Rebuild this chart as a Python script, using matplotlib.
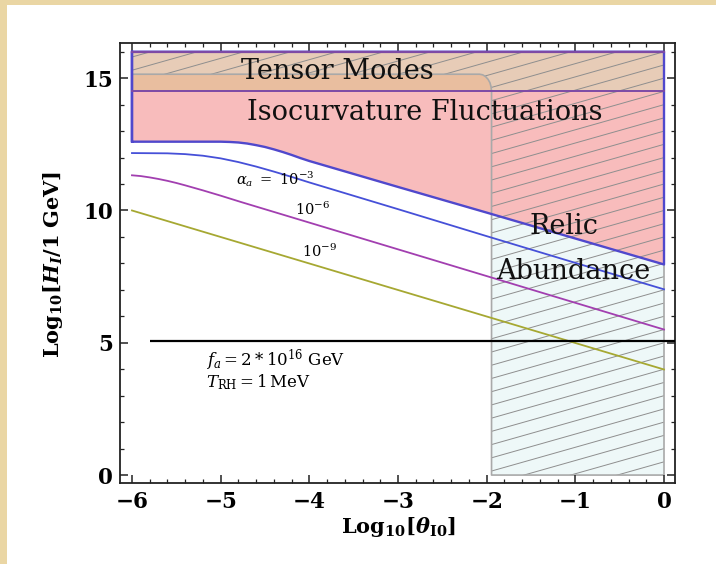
import numpy as np
import matplotlib
matplotlib.use('Agg')
import matplotlib.pyplot as plt
from matplotlib.patches import Polygon, Rectangle
from matplotlib.ticker import MultipleLocator

# ---------------- data ----------------
iso_x = [-6.0, -5.0, -4.9, -4.8, -4.7, -4.6, -4.5, -4.4, -4.3, -4.2, -4.1, -4.0,
         -3.0, -2.0, -1.0, 0.0]
iso_y = [12.6, 12.6, 12.59, 12.57, 12.53, 12.47, 12.40, 12.31, 12.21, 12.10, 11.98, 11.87,
         10.89, 9.92, 8.94, 7.96]
iso_top = 16.0

tensor_x = [-6.0, 0.0]
tensor_lo = 14.5
tensor_hi = 16.0

curve_x1 = [-6.0, -5.6, -5.4, -5.2, -5.0, -4.8, -4.6, -4.4, -4.2, -4.0, -3.0, -2.0, -1.0, 0.0]
curve_y1 = [12.17, 12.16, 12.13, 12.07, 11.97, 11.83, 11.66, 11.47, 11.27, 11.06,
            10.05, 9.03, 8.02, 7.02]
curve_x2 = [-6.0, -5.9, -5.8, -5.7, -5.6, -5.5, -5.4, -5.2, -5.0, -4.78, 0.0]
curve_y2 = [11.33, 11.30, 11.25, 11.19, 11.12, 11.04, 10.95, 10.76, 10.56, 10.33, 5.5]
curve_x3 = [-6.0, 0.0]
curve_y3 = [10.0, 3.99]
curve_labels = [r'$\alpha_a\ =\ 10^{-3}$', r'$10^{-6}$', r'$10^{-9}$']
curve_label_x = [-4.38, -3.96, -3.88]
curve_label_y = [11.2, 10.06, 8.44]

relic_x = [-6.0, -2.08, -2.045, -2.012, -1.985, -1.963, -1.95, -1.945, -1.945, 0.0, 0.0, -6.0]
relic_y = [15.15, 15.15, 15.128, 15.06, 14.96, 14.83, 14.67, 14.5, 0.0, 0.0, 16.0, 16.0]

hline_y = 5.07
hline_x0 = -5.8

region_labels = ['Tensor Modes', 'Isocurvature Fluctuations', 'Relic', 'Abundance']
region_label_x = [-3.68, -2.70, -1.13, -1.02]
region_label_y = [15.25, 13.72, 9.41, 7.69]

xticks = [-6, -5, -4, -3, -2, -1, 0]
yticks = [0, 5, 10, 15]
xlim = (-6.135, 0.124)
ylim = (-0.30, 16.33)

# ---------------- style ----------------
plt.rcParams['mathtext.fontset'] = 'dejavuserif'
plt.rcParams['font.family'] = ['DejaVu Serif']

W, H = 716, 564
fig = plt.figure(figsize=(W / 100, H / 100), dpi=100)
fig.patch.set_facecolor('white')
# parchment border
fig.add_artist(Rectangle((0, 1 - 5 / H), 1, 5 / H, transform=fig.transFigure,
                         facecolor='#ead6a4', edgecolor='none', zorder=-10))
fig.add_artist(Rectangle((0, 0), 7 / W, 1, transform=fig.transFigure,
                         facecolor='#ead6a4', edgecolor='none', zorder=-10))

ax = fig.add_axes([120 / W, 1 - 483 / H, (675 - 120) / W, (483 - 43) / H])
ax.set_xlim(*xlim)
ax.set_ylim(*ylim)

relic_xy = np.column_stack([relic_x, relic_y])
# relic abundance region (underneath)
ax.add_patch(Polygon(relic_xy, closed=True, facecolor='#eef8f8', edgecolor='none', zorder=0.9))
# isocurvature region
ax.fill_between(iso_x, iso_y, iso_top, facecolor='#f8bcbc', edgecolor='none', zorder=1)
# tensor band (light, hatched part) + stronger tone where not in relic region
ax.fill_between(tensor_x, tensor_lo, tensor_hi, facecolor='#dcd8b5', alpha=0.6,
                edgecolor='none', zorder=1.1)
ax.fill_between(relic_x[:8], tensor_lo, relic_y[:8], facecolor='#ee9e68', alpha=0.3,
                edgecolor='none', zorder=1.15)

relic_clip = Polygon(relic_xy, closed=True, facecolor='none', edgecolor='none')
ax.add_patch(relic_clip)
hx = np.array([-6.3, 0.3])
for c in np.arange(-6, 24, 0.5):
    ln, = ax.plot(hx, 0.95 * hx + c, color='#8e8e8e', lw=0.7, zorder=1.3)
    ln.set_clip_path(relic_clip)
ax.plot(relic_x[:-2] + [0.0], relic_y[:-2] + [16.0], color='#a9a9a9', lw=1.2, zorder=1.4)

# outlines
ix = [-6.0] + iso_x + [0.0, -6.0, -6.0]
iy = [iso_top] + iso_y + [iso_top, iso_top, iso_y[0]]
ax.plot(ix, iy, color='#5048cc', lw=1.7, zorder=2, solid_joinstyle='round')
ax.plot(tensor_x, [tensor_lo, tensor_lo], color='#7d4aa6', lw=1.4, zorder=2)
ax.plot(tensor_x, [tensor_hi, tensor_hi], color='#7d4aa6', lw=1.6, zorder=2)

# alpha curves
ax.plot(curve_x1, curve_y1, color='#4650d8', lw=1.3, zorder=3)
ax.plot(curve_x2, curve_y2, color='#a23fb0', lw=1.3, zorder=3)
ax.plot(curve_x3, curve_y3, color='#a6a832', lw=1.3, zorder=3)

ax.hlines(hline_y, hline_x0, xlim[1], color='black', lw=1.6, zorder=3)

for s, x, y in zip(curve_labels, curve_label_x, curve_label_y):
    ax.text(x, y, s, ha='center', va='center', fontsize=10.5, zorder=4)

for s, x, y in zip(region_labels, region_label_x, region_label_y):
    ax.text(x, y, s, ha='center', va='center', fontsize=19.5, zorder=4, color='#111111')

ax.text(-5.17, 4.35, r'$f_a = 2 * 10^{16}\ \mathrm{GeV}$', ha='left', va='center',
        fontsize=12, zorder=4)
ax.text(-5.17, 3.52, r'$T_{\mathrm{RH}} = 1\,\mathrm{MeV}$', ha='left', va='center',
        fontsize=12, zorder=4)

# ticks & frame
ax.set_xticks(xticks)
ax.set_yticks(yticks)
ax.xaxis.set_minor_locator(MultipleLocator(0.2))
ax.yaxis.set_minor_locator(MultipleLocator(1.0))
ax.tick_params(which='both', direction='in', top=True, right=True, color='#222222')
ax.tick_params(which='major', length=6, width=1.1)
ax.tick_params(which='minor', length=3.2, width=0.9)
ax.tick_params(axis='x', pad=6)
ax.tick_params(axis='y', pad=5)
for lab in ax.get_xticklabels() + ax.get_yticklabels():
    lab.set_fontweight('bold')
    lab.set_fontsize(15.5)
for sp in ax.spines.values():
    sp.set_linewidth(1.3)
    sp.set_color('#222222')

ylab_bf = r'$\mathbf{Log_{10}[}\mathbfit{H_I}\mathbf{/1\ GeV]}$'
xlab_bf = r'$\mathbf{Log_{10}[}\mathbfit{\theta}_{\mathbf{I0}}\mathbf{]}$'
ylab_it = r'$\mathbf{Log_{10}[}\mathit{H_I}\mathbf{/1\ GeV]}$'
xlab_it = r'$\mathbf{Log_{10}[}\theta_{\mathbf{I0}}\mathbf{]}$'

ty = fig.text(53 / W, 1 - 265 / H, ylab_bf, rotation=90, ha='center', va='center', fontsize=15)
tx = fig.text(399 / W, 1 - 527 / H, xlab_bf, ha='center', va='center', fontsize=15)
try:
    fig.canvas.draw()
except Exception:
    ty.set_text(ylab_it)
    tx.set_text(xlab_it)

fig.savefig('out.png', dpi=100)
